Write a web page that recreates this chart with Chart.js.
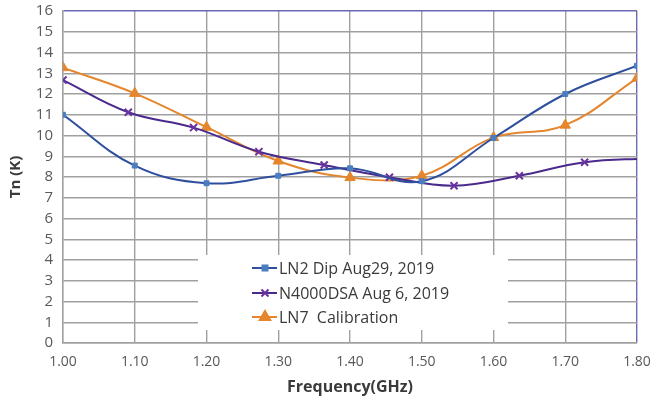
<!DOCTYPE html>
<html lang="en">
<head>
    <meta charset="UTF-8">
    <title>Tn vs Frequency</title>
    <script src="https://cdn.jsdelivr.net/npm/chart.js"></script>
    <style>
        html, body {
            margin: 0;
            padding: 0;
            background: #ffffff;
        }
        .contenedor {
            position: relative;
            width: 652px;
            height: 405px;
        }
    </style>
</head>
<body>
    <div class="contenedor">
        <canvas id="grafica"></canvas>
    </div>

    <script>
        // datos
        const frecLN2 = [1.00, 1.10, 1.20, 1.30, 1.40, 1.50, 1.60, 1.70, 1.80];
        const tnLN2 = [11.0, 8.55, 7.7, 8.06, 8.42, 7.8, 9.88, 12.0, 13.36];

        const frecN4000 = [1.00, 1.091, 1.182, 1.273, 1.364, 1.455, 1.545, 1.636, 1.727, 1.818];
        const tnN4000 = [12.67, 11.12, 10.38, 9.22, 8.58, 7.99, 7.58, 8.06, 8.71, 8.9];

        const frecLN7 = [1.00, 1.10, 1.20, 1.30, 1.40, 1.50, 1.60, 1.70, 1.80];
        const tnLN7 = [13.27, 12.03, 10.4, 8.77, 7.97, 8.06, 9.9, 10.5, 12.76];

        const etiquetas = ['LN2 Dip Aug29, 2019', 'N4000DSA Aug 6, 2019', 'LN7  Calibration'];

        function puntos(xs, ys) {
            return xs.map((x, i) => ({ x: x, y: ys[i] }));
        }

        const colorGris = '#a0a0a0';
        const colorBorde = '#6b6bb5';
        const fuente = "'Open Sans', 'Liberation Sans', sans-serif";

        // leyenda dentro del area de la grafica, con fondo blanco
        const leyendaInterna = {
            id: 'leyendaInterna',
            afterDatasetsDraw(chart) {
                const ctx = chart.ctx;
                ctx.save();
                ctx.fillStyle = '#ffffff';
                ctx.fillRect(198, 255, 310, 75);
                const filas = [268, 293, 317];
                chart.data.datasets.forEach((ds, i) => {
                    const y = filas[i];
                    ctx.strokeStyle = ds.borderColor;
                    ctx.lineWidth = 2;
                    ctx.beginPath();
                    ctx.moveTo(252, y);
                    ctx.lineTo(277, y);
                    ctx.stroke();
                    ctx.fillStyle = ds.pointBackgroundColor;
                    ctx.strokeStyle = ds.pointBorderColor;
                    Chart.helpers.drawPoint(ctx, {
                        pointStyle: ds.pointStyle,
                        radius: ds.pointRadius,
                        rotation: 0,
                        borderWidth: ds.pointBorderWidth
                    }, 265, y);
                    ctx.fillStyle = '#3a3a3a';
                    ctx.font = '16px ' + fuente;
                    ctx.textAlign = 'left';
                    ctx.textBaseline = 'middle';
                    ctx.fillText(etiquetas[i], 279, y + 1);
                });
                ctx.restore();
            }
        };

        new Chart(document.getElementById('grafica'), {
            type: 'line',
            data: {
                datasets: [{
                    label: etiquetas[0],
                    data: puntos(frecLN2, tnLN2),
                    borderColor: '#2f4f9e',
                    borderWidth: 2,
                    pointStyle: 'rect',
                    pointRadius: 3.5,
                    pointBackgroundColor: '#4a7ec0',
                    pointBorderColor: '#4a7ec0',
                    pointBorderWidth: 1,
                    tension: 0.4
                }, {
                    label: etiquetas[1],
                    data: puntos(frecN4000, tnN4000),
                    borderColor: '#4a2a8c',
                    borderWidth: 2,
                    pointStyle: 'crossRot',
                    pointRadius: 5,
                    pointBackgroundColor: '#6a32a0',
                    pointBorderColor: '#6a32a0',
                    pointBorderWidth: 2,
                    tension: 0.4
                }, {
                    label: etiquetas[2],
                    data: puntos(frecLN7, tnLN7),
                    borderColor: '#e5852c',
                    borderWidth: 2,
                    pointStyle: 'triangle',
                    pointRadius: 6,
                    pointBackgroundColor: '#e5852c',
                    pointBorderColor: '#e5852c',
                    pointBorderWidth: 1,
                    tension: 0.4
                }]
            },
            options: {
                responsive: true,
                maintainAspectRatio: false,
                animation: false,
                layout: {
                    padding: { top: 11, right: 15, left: 0, bottom: 0 }
                },
                plugins: {
                    legend: { display: false },
                    tooltip: { enabled: false }
                },
                scales: {
                    x: {
                        type: 'linear',
                        min: 1.0,
                        max: 1.8,
                        afterFit: s => {
                            s.height = 62;
                            s.paddingLeft = 0;
                            s.paddingRight = 0;
                        },
                        afterBuildTicks: s => {
                            s.ticks = [];
                            for (let i = 0; i <= 8; i++) s.ticks.push({ value: 1 + i / 10 });
                        },
                        ticks: {
                            padding: 11,
                            autoSkip: false,
                            color: '#595959',
                            font: { size: 14, family: fuente },
                            callback: v => v.toFixed(2)
                        },
                        grid: {
                            drawTicks: false,
                            lineWidth: 1.4,
                            color: c => (c.tick && Math.abs(c.tick.value - 1.8) < 1e-6) ? colorBorde : colorGris
                        },
                        border: { color: colorGris, width: 1.4 },
                        title: {
                            display: true,
                            text: 'Frequency(GHz)',
                            color: '#3a3a3a',
                            font: { size: 16, weight: 'bold', family: fuente },
                            padding: { top: 2, bottom: 8 }
                        }
                    },
                    y: {
                        min: 0,
                        max: 16,
                        afterFit: s => {
                            s.width = 63;
                            s.paddingTop = 0;
                            s.paddingBottom = 0;
                        },
                        ticks: {
                            stepSize: 1,
                            autoSkip: false,
                            padding: 10,
                            color: '#595959',
                            font: { size: 15, family: fuente }
                        },
                        grid: {
                            drawTicks: false,
                            lineWidth: 1.4,
                            color: c => (c.tick && c.tick.value === 16) ? colorBorde : colorGris
                        },
                        border: { color: colorGris, width: 1.4 },
                        title: {
                            display: true,
                            text: 'Tn (K)',
                            color: '#3a3a3a',
                            font: { size: 15, weight: 'bold', family: fuente },
                            padding: { top: 7, bottom: 4 }
                        }
                    }
                }
            },
            plugins: [leyendaInterna]
        });
    </script>
</body>
</html>
